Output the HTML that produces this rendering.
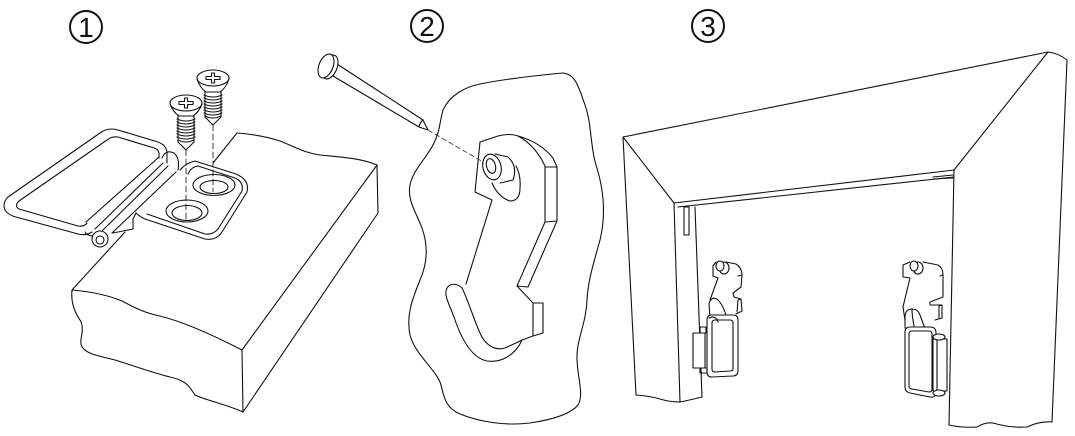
<!DOCTYPE html>
<html><head><meta charset="utf-8">
<style>
html,body{margin:0;padding:0;background:#fff;width:1075px;height:436px;overflow:hidden}
svg{display:block}
.n{font-family:"Liberation Sans","DejaVu Sans",sans-serif;font-size:28px;fill:#111;stroke:none;text-anchor:middle}
</style></head>
<body>
<svg width="1075" height="436" viewBox="0 0 1075 436" xmlns="http://www.w3.org/2000/svg" fill="none" stroke="#111" stroke-width="1.1" stroke-linejoin="round" stroke-linecap="round">

<!-- circled numbers -->
<circle cx="86" cy="27" r="16" stroke-width="2"/>
<text class="n" x="86" y="37">1</text>
<circle cx="427" cy="26" r="16" stroke-width="2"/>
<text class="n" x="427" y="36">2</text>
<circle cx="708" cy="26" r="16" stroke-width="2"/>
<text class="n" x="708" y="36">3</text>

<!-- ================= PANEL 1 ================= -->
<!-- block -->
<path d="M237,133 C250,134 265,136 280,141 C295,147 305,153 320,155 C340,157 360,158 377,165"/>
<path d="M377,165 L378,213 L243,412"/>
<path d="M377,165 L242,350 L243,412"/>
<path d="M72,290 C95,292 110,296 122,301 C135,308 145,313 160,316 C180,321 205,331 242,350"/>
<path d="M72,290 C71,300 73,310 80,320 C86,330 78,340 82,347 C88,355 100,356 115,360 C135,366 150,372 170,377 C188,381 190,388 195,395 C205,400 225,404 243,412"/>
<path d="M237,133 L213,163"/>
<path d="M125,232 L72,290"/>

<!-- hinge plate -->
<path fill="#fff" stroke="none" d="M182,172 Q186,163 195,161 L236,174 Q250,180 247,192 L222,232 Q216,241 205,239 L145,219 Q139,216 136,213 L172,170 Z"/>
<path d="M180,170 Q186,163 195,161 L236,174 Q250,180 247,192 L222,232 Q216,241 205,239 L145,219 Q139,216 136,213"/>
<path d="M188,174 Q191,167 198,166 L235,178 Q244,182 242,191 L218,229 Q213,235 205,234 L147,214"/>
<path d="M136,213 L133,219 L133,229 L113,233"/>
<!-- holes -->
<ellipse cx="214" cy="185" rx="21" ry="10.5"/>
<ellipse cx="214" cy="187" rx="14" ry="6.5"/>
<ellipse cx="187" cy="211" rx="21" ry="11"/>
<ellipse cx="187" cy="213" rx="15" ry="7.5"/>

<!-- wire loop -->
<path d="M167,163 L167,152 Q166,145 158,142 L118,130 Q108,127 100,133 L8,197 Q2,203 5,210 Q8,215 16,217 L78,234 Q86,236 92,232"/>
<path d="M159,158 L159,153 Q158,149 154,148 L118,137 Q112,136 107,140 L19,201 Q14,206 19,209 L78,226 Q84,227 87,223"/>
<!-- knuckle -->
<path d="M159,157 L86,222"/>
<path d="M163,163 L95,229"/>
<path d="M168,166 L102,231"/>
<path d="M176,172 L112,233"/>
<path d="M162,158 Q166,149 174,153 Q180,158 178,170"/>
<circle cx="100" cy="239" r="8" fill="#fff"/>
<circle cx="100" cy="240" r="4"/>
<path d="M92,236 Q86,235 85,232"/>

<!-- dashed guides -->
<path d="M186,150 L186,221" stroke-width="0.8" stroke-dasharray="6 3"/>
<path d="M213,125 L213,192" stroke-width="0.8" stroke-dasharray="6 3"/>

<!-- right screw -->
<ellipse cx="213" cy="78" rx="16" ry="8"/>
<path d="M197,79 Q200,88 206,92 L220,92 Q226,88 229,79"/>
<path d="M211.5,73 L214.5,73 L214.5,76.5 L220,76.5 L220,79.5 L214.5,79.5 L214.5,83 L211.5,83 L211.5,79.5 L206,79.5 L206,76.5 L211.5,76.5 Z"/>
<path d="M205,92 L205,117 M221,92 L221,117"/>
<path d="M204,95 Q213,99 222,95 M204,98 Q213,102 222,98 M204,101 Q213,105 222,101 M204,104 Q213,108 222,104 M204,107 Q213,111 222,107 M204,110 Q213,114 222,110 M204,113 Q213,117 222,113 M205,116 Q213,120 221,116"/>
<path d="M205,117 L213,125 L221,117"/>

<!-- left screw -->
<ellipse cx="186" cy="103" rx="16" ry="8"/>
<path d="M170,104 Q173,112 179,116 L193,116 Q199,112 202,104"/>
<path d="M184.5,98 L187.5,98 L187.5,101.5 L193,101.5 L193,104.5 L187.5,104.5 L187.5,108 L184.5,108 L184.5,104.5 L179,104.5 L179,101.5 L184.5,101.5 Z"/>
<path d="M178,116 L178,142 M194,116 L194,142"/>
<path d="M177,119 Q186,123 195,119 M177,122 Q186,126 195,122 M177,125 Q186,129 195,125 M177,128 Q186,132 195,128 M177,131 Q186,135 195,131 M177,134 Q186,138 195,134 M177,137 Q186,141 195,137 M178,140 Q186,144 194,140"/>
<path d="M178,142 L186,150 L194,142"/>

<!-- ================= PANEL 2 ================= -->
<!-- nail -->
<path d="M337,64 L423,120"/>
<path d="M333,76 L419,127"/>
<path d="M423,120 L428,130 L419,127 Q420,122 423,120"/>
<ellipse cx="330" cy="67" rx="12.5" ry="7" transform="rotate(-68 330 67)" fill="#fff"/>
<ellipse cx="326" cy="66" rx="12.5" ry="7" transform="rotate(-68 326 66)" fill="#fff"/>
<path d="M428,130 L490,166" stroke-width="0.7" stroke-dasharray="5 3"/>

<!-- wall piece -->
<path d="M443,110 C450,95 465,87 480,84 C500,80 530,76 563,73 C575,74 578,85 585,105 C592,125 590,145 596,165 C604,190 606,215 600,240 C594,262 588,280 587,300 C586,325 576,340 577,360 C578,380 584,395 578,405 C570,415 550,420 530,423 C505,426 480,422 460,414 C446,408 444,398 441,385 C437,370 415,355 410,335 C406,315 412,300 420,280 C428,262 428,245 422,228 C416,212 407,200 410,185 C413,170 425,160 433,145 C440,132 440,120 443,110 Z"/>

<!-- hook plate -->
<path d="M480,142 L498,136 Q510,133 518,136 Q535,145 545,166 L545,222 L517,286 L533,303 L533,336 L522,340"/>
<path d="M518,136 Q540,142 553,158 L557,167 L545,167"/>
<path d="M557,167 L557,221 L545,222"/>
<path d="M557,221 L528,287 L517,286"/>
<path d="M533,303 L543,303 L543,333 L533,336"/>
<path d="M480,142 L475,192 L492,200 L466,284"/>
<!-- hook tab -->
<path d="M522,340 C515,356 500,363 487,361 C472,358 462,340 455,320 C450,305 443,295 447,288 C450,283 457,283 462,288"/>
<path d="M462,288 C468,300 474,320 480,333 C485,345 495,351 505,348 C512,345 518,342 522,340"/>
<!-- bushing -->
<path d="M492,183 Q498,197 510,201 Q520,201 520,188 Q521,175 516,166"/>
<path d="M495,154 L508,157 Q518,166 513,180 L500,183"/>
<ellipse cx="492" cy="167" rx="9" ry="13" transform="rotate(-15 492 167)" fill="#fff"/>
<ellipse cx="491" cy="166" rx="4.5" ry="7.5" transform="rotate(-15 491 166)"/>

<!-- ================= PANEL 3 ================= -->
<path d="M623,137 L1048,52 Q1058,53 1067,60 L1052,422"/>
<path d="M623,137 L636,395"/>
<path d="M623,137 L674,203"/>
<path d="M1048,52 L954,170"/>
<path d="M674,203 L954,170"/>
<path d="M678,207 L954,177"/>
<path d="M674,203 L680,402"/>
<path d="M695,207 L702,397"/>
<rect x="684" y="207" width="5" height="28"/>
<path d="M954,170 L949,425"/>
<path d="M933,177 L953,175 M933,179 L953,178"/>
<path d="M636,395 Q650,396 660,399 Q670,402 680,402 Q690,400 702,397"/>
<path d="M949,425 Q963,428 977,427 Q985,422 993,423 Q1010,428 1027,427 Q1040,421 1052,422"/>

<!-- left hook -->
<path d="M713,266 L713,276 L718,278 L710,300"/>
<path d="M726,262 L736,264 Q742,268 742,275 L741,287 L733,293 L734,297 L741,299 L742,311 L736,314"/>
<path d="M742,275 L738,276 M741,299 L738,300 L737,312"/>
<ellipse cx="724" cy="268" rx="5" ry="6"/>
<ellipse cx="720" cy="266" rx="4" ry="5" fill="#fff"/>
<path d="M713,266 L716,262"/>
<path d="M710,318 L709,304 Q711,296 717,299 Q722,303 726,315"/>
<path d="M707,320 Q707,315 712,315 L733,315 Q738,315 738,320 L738,370 Q738,376 733,376 L712,377 Q707,377 707,372 Z" fill="#fff"/>
<path d="M712,323 Q712,320 715,320 L730,320 Q733,320 733,323 L733,369 Q733,371 730,371 L715,372 Q712,372 712,369 Z"/>
<path d="M709,318 Q716,315 718,322"/>
<rect x="693" y="333" width="12" height="35" fill="#fff"/>
<rect x="700" y="327" width="6" height="6"/>
<rect x="700" y="368" width="7" height="5"/>

<!-- right hook -->
<path d="M903,265 L903,277 L910,278 L903,307 L905,320"/>
<path d="M923,262 L938,265 Q943,268 943,275 L943,297 L930,302 L930,305 L942,305 L942,318 L935,320"/>
<path d="M943,275 L940,276 M942,305 L939,306 L939,318"/>
<ellipse cx="918" cy="268" rx="5" ry="6"/>
<ellipse cx="914" cy="266" rx="4" ry="5" fill="#fff"/>
<path d="M903,265 L910,262"/>
<path d="M905,328 L905,316 Q906,309 912,309 Q918,309 920,315 L924,326 Q928,330 933,331"/>
<path d="M905,332 Q905,327 910,327 L930,327 Q936,327 936,333 L936,392 Q936,398 930,397 L910,393 Q905,392 905,387 Z" fill="#fff"/>
<path d="M909,334 Q909,331 912,331 L929,331 Q932,331 932,334 L932,389 Q932,392 929,392 L912,389 Q909,389 909,386 Z"/>
<path d="M912,309 Q912,316 914,326"/>
<rect x="933" y="339" width="14" height="52" fill="#fff"/>
<path d="M937,339 L937,391"/>
<ellipse cx="939" cy="337" rx="6" ry="3" fill="#fff"/>
<ellipse cx="939" cy="393" rx="6" ry="3" fill="#fff"/>
</svg>
</body></html>
